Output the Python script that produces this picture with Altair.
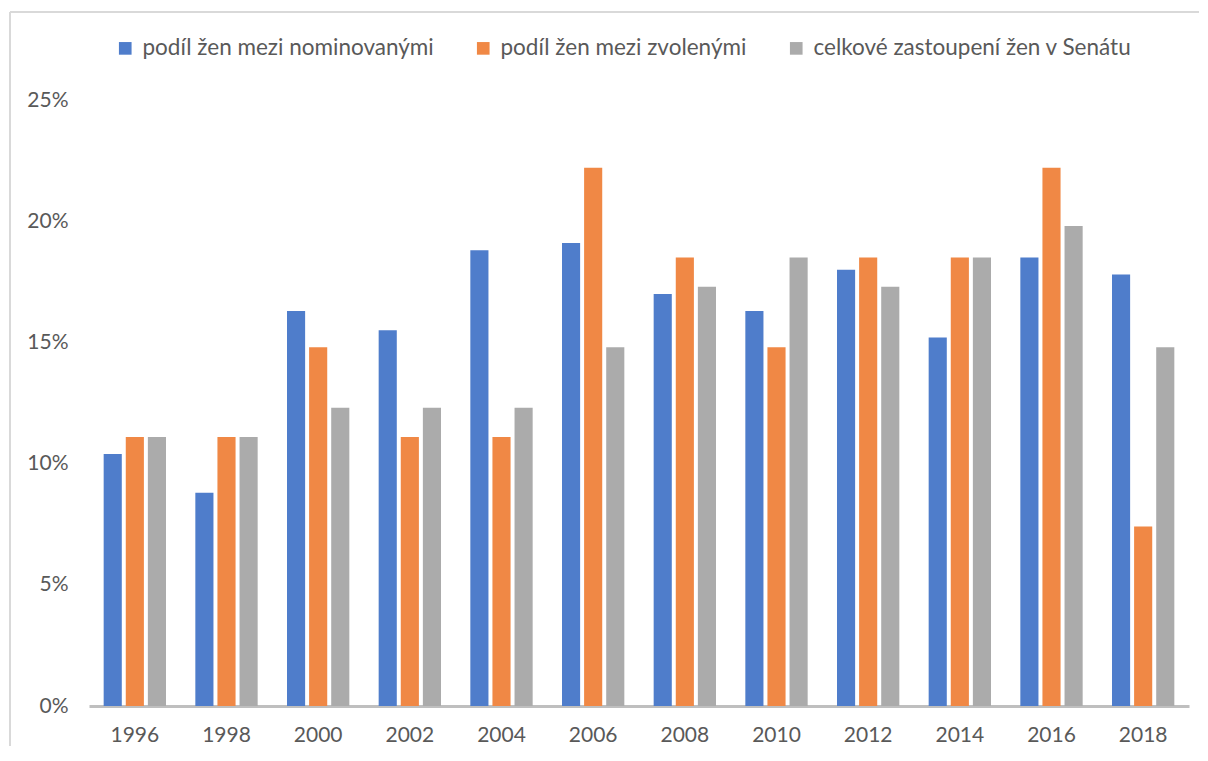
import altair as alt
import pandas as pd

years = ["1996", "1998", "2000", "2002", "2004", "2006", "2008", "2010", "2012", "2014", "2016", "2018"]
series = ["podíl žen mezi nominovanými", "podíl žen mezi zvolenými", "celkové zastoupení žen v Senátu"]
nominated = [10.4, 8.8, 16.3, 15.5, 18.8, 19.1, 17.0, 16.3, 18.0, 15.2, 18.5, 17.8]
elected = [11.1, 11.1, 14.8, 11.1, 11.1, 22.2, 18.5, 14.8, 18.5, 18.5, 22.2, 7.4]
senate = [11.1, 11.1, 12.3, 12.3, 12.3, 14.8, 17.3, 18.5, 17.3, 18.5, 19.8, 14.8]
colors = ["#4f7dcb", "#f08845", "#ababab"]

rows = []
for vals, name in zip([nominated, elected, senate], series):
    for y, v in zip(years, vals):
        rows.append({"rok": y, "řada": name, "hodnota": v / 100})
df = pd.DataFrame(rows)

FONT = "Lato"
TXT = "#595959"

bars = alt.Chart(df).mark_bar().encode(
    x=alt.X("rok:N", sort=years, title=None,
            scale=alt.Scale(paddingInner=0.32, paddingOuter=0.16),
            axis=alt.Axis(labelAngle=0, ticks=False, domain=True, domainColor="#bfbfbf",
                          domainWidth=3, labelPadding=18, labelFontSize=21,
                          labelColor=TXT, labelFont=FONT)),
    xOffset=alt.XOffset("řada:N", sort=series, scale=alt.Scale(paddingInner=0.18)),
    y=alt.Y("hodnota:Q", title=None,
            scale=alt.Scale(domain=[0, 0.25]),
            axis=alt.Axis(format=".0%", values=[0, 0.05, 0.10, 0.15, 0.20, 0.25],
                          ticks=False, domain=False, grid=False, labelPadding=21,
                          labelFontSize=21, labelColor=TXT, labelFont=FONT)),
    color=alt.Color("řada:N", sort=series,
                    scale=alt.Scale(domain=series, range=colors),
                    legend=alt.Legend(title=None, orient="none", direction="horizontal",
                                      legendX=25, legendY=-63, symbolType="square",
                                      symbolSize=160, labelFontSize=22.5, labelColor=TXT,
                                      labelFont=FONT, columnPadding=38, labelOffset=6,
                                      labelLimit=1000, padding=0, symbolStrokeWidth=0)),
)

frame_top = alt.Chart(df).mark_rule(stroke="#d9d9d9", strokeWidth=1.5).encode(
    x=alt.value(-79), x2=alt.value(1300), y=alt.value(-88)
)
frame_left = alt.Chart(df).mark_rule(stroke="#d9d9d9", strokeWidth=1.5).encode(
    x=alt.value(-79), y=alt.value(-88), y2=alt.value(900)
)

chart = alt.layer(frame_top, frame_left, bars).properties(
    width=1100, height=606,
    background="white",
    autosize=alt.AutoSizeParams(type="none"),
    padding={"left": 81, "top": 92, "right": 10, "bottom": 40},
).configure_view(strokeWidth=0, stroke="transparent")

chart.save("out.html", embed_options={"renderer": "svg", "actions": False})
